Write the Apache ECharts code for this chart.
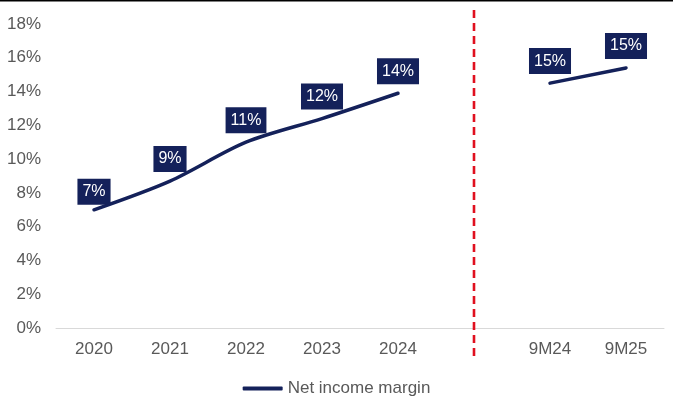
<!DOCTYPE html>
<html>
<head>
<meta charset="utf-8">
<script src="https://cdn.jsdelivr.net/npm/echarts@6/dist/echarts.min.js"></script>
<style>
  html, body { margin: 0; padding: 0; background: #fff; }
  #chart { width: 673px; height: 396px; }
</style>
</head>
<body>
<div id="chart"></div>
<script>
// Periods on the category axis; the blank slot separates full years from nine-month figures
const categories = ['2020', '2021', '2022', '2023', '2024', '', '9M24', '9M25'];
// Net income margin, in percent (null = no value in the separator slot)
const netIncomeMargin = [7.0, 8.7, 11.0, 12.4, 13.9, null, 14.5, 15.4];
const yTicks = { min: 0, max: 18, interval: 2 };
const separatorCategory = '';

const navy = '#14215a';
const axisText = '#595959';
const fontFamily = '"Liberation Sans", Arial, Helvetica, sans-serif';
const fontSize = 17;

const chart = echarts.init(document.getElementById('chart'));

// The first label sits a little closer to its point than the others
const seriesData = netIncomeMargin.map((v, i) =>
  i === 0 ? { value: v, label: { distance: 5 } } : v
);

chart.setOption({
  animation: false,
  backgroundColor: '#fff',
  textStyle: { fontFamily: fontFamily },
  grid: { left: 56, right: 9, top: 24, bottom: 68 },
  legend: {
    top: 375,
    left: 'center',
    itemWidth: 40,
    itemHeight: 4,
    itemGap: 2,
    icon: 'roundRect',
    textStyle: { color: axisText, fontSize: fontSize, fontFamily: fontFamily },
    data: ['Net income margin']
  },
  xAxis: {
    type: 'category',
    data: categories,
    boundaryGap: true,
    axisLine: { lineStyle: { color: '#d9d9d9', width: 1 } },
    axisTick: { show: false },
    axisLabel: { color: axisText, fontSize: fontSize, margin: 13, fontFamily: fontFamily }
  },
  yAxis: {
    type: 'value',
    min: yTicks.min,
    max: yTicks.max,
    interval: yTicks.interval,
    splitLine: { show: false },
    axisLine: { show: false },
    axisTick: { show: false },
    axisLabel: {
      color: axisText,
      fontSize: fontSize,
      margin: 15,
      fontFamily: fontFamily,
      formatter: v => v + '%'
    }
  },
  series: [{
    name: 'Net income margin',
    type: 'line',
    data: seriesData,
    smooth: 0.3,
    connectNulls: false,
    showSymbol: true,
    symbol: 'circle',
    symbolSize: 0,
    lineStyle: { color: navy, width: 3.5, cap: 'round' },
    itemStyle: { color: navy },
    label: {
      show: true,
      position: 'top',
      distance: 9,
      color: '#fff',
      fontSize: 16,
      lineHeight: 16,
      fontFamily: fontFamily,
      backgroundColor: navy,
      padding: [5, 5, 5, 5],
      formatter: p => Math.round(p.value) + '%'
    }
  }]
});

// Dashed separator through the blank category, extending past the plot area
function drawSeparator() {
  const idx = categories.indexOf(separatorCategory);
  const x = chart.convertToPixel({ xAxisIndex: 0 }, idx);
  chart.setOption({
    graphic: [
      {
        type: 'line',
        shape: { x1: x, y1: 10, x2: x, y2: 356 },
        style: { stroke: '#e0101f', lineWidth: 2.6, lineDash: [8, 5] },
        z: 10
      },
      {
        type: 'rect',
        shape: { x: 0, y: 0, width: 673, height: 1.5 },
        style: { fill: '#000' },
        z: 10
      }
    ]
  });
}
drawSeparator();
</script>
</body>
</html>
